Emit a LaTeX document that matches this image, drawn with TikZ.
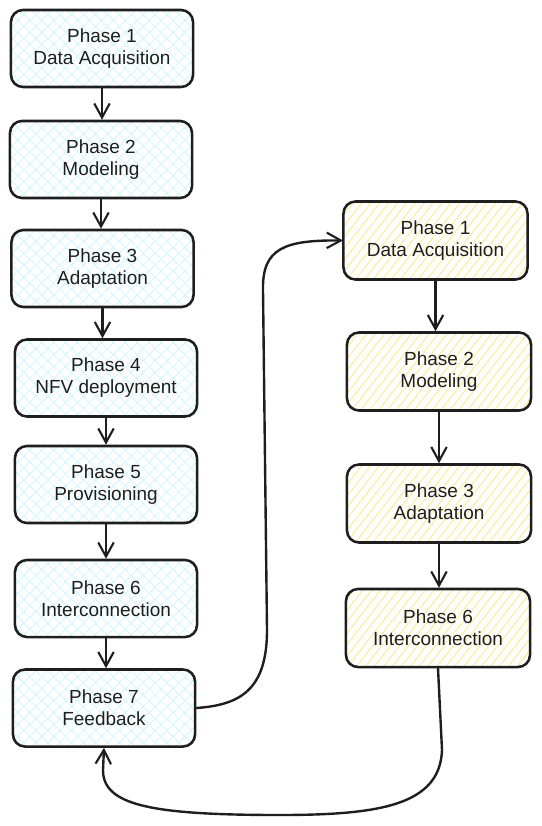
\documentclass[tikz,border=0pt]{standalone}
\usepackage{fontspec}
\setmainfont{Liberation Sans}
\usetikzlibrary{positioning,arrows.meta,patterns.meta}

\definecolor{ink}{HTML}{1E1E1E}
\definecolor{cyanhatch}{HTML}{D2F6FA}
\definecolor{yellowhatch}{HTML}{FFE995}

\tikzset{
  phasebox/.style={draw=ink, line width=1.8pt, rounded corners=0.3cm,
    minimum width=4.55cm, minimum height=1.925cm, align=center, text=ink,
    font=\fontsize{13.5}{15.6}\selectfont},
  cyanbox/.style={phasebox,
    pattern={Hatch[angle=45,distance=6pt,line width=0.6pt]}, pattern color=cyanhatch},
  yellowbox/.style={phasebox, minimum width=4.6cm, minimum height=1.95cm,
    pattern={Lines[angle=52,distance=5pt,line width=0.7pt]}, pattern color=yellowhatch},
  flow/.style={draw=ink, line width=1.7pt,
    -{Straight Barb[length=10pt,width=11pt,line width=1.5pt]}}
}

\begin{document}
\begin{tikzpicture}[x=0.025cm, y=-0.025cm, line cap=round, line join=round]
	\useasboundingbox (0,0) rectangle (541,826);

	% first pass
	\node[cyanbox] (L1) at (102,48.5) {Phase 1\\Data Acquisition};
	\node[cyanbox] (L2) at (101,159.5) {Phase 2\\Modeling};
	\node[cyanbox] (L3) at (102.5,268.5) {Phase 3\\Adaptation};
	\node[cyanbox] (L4) at (106,378) {Phase 4\\NFV deployment};
	\node[cyanbox] (L5) at (106,484.5) {Phase 5\\Provisioning};
	\node[cyanbox] (L6) at (106,598.5) {Phase 6\\Interconnection};
	\node[cyanbox] (L7) at (104,708) {Phase 7\\Feedback};

	\foreach \a/\b in {L1/L2, L2/L3, L3/L4, L4/L5, L5/L6, L6/L7}
		\draw[flow] (\a.south) -- (\a.south |- \b.north);

	% second pass
	\node[yellowbox] (R1) at (435.5,240.5) {Phase 1\\Data Acquisition};
	\node[yellowbox] (R2) at (439,371.5) {Phase 2\\Modeling};
	\node[yellowbox] (R3) at (439,503.5) {Phase 3\\Adaptation};
	\node[yellowbox] (R6) at (438,628) {Phase 6\\Interconnection};

	\foreach \a/\b in {R1/R2, R2/R3, R3/R6}
		\draw[flow] (\a.south) -- (\a.south |- \b.north);

	% loops
	\draw[flow] (L7.east) .. controls (240,705) and (267,690) .. (267,630)
		-- (263,290) .. controls (262,248) and (285,240) .. (R1.west);
	\draw[flow] (R6.south) -- (442,750) .. controls (440,805) and (380,815) .. (280,815)
		.. controls (150,815) and (103,805) .. (103,770) -- (L7.south);
\end{tikzpicture}
\end{document}
